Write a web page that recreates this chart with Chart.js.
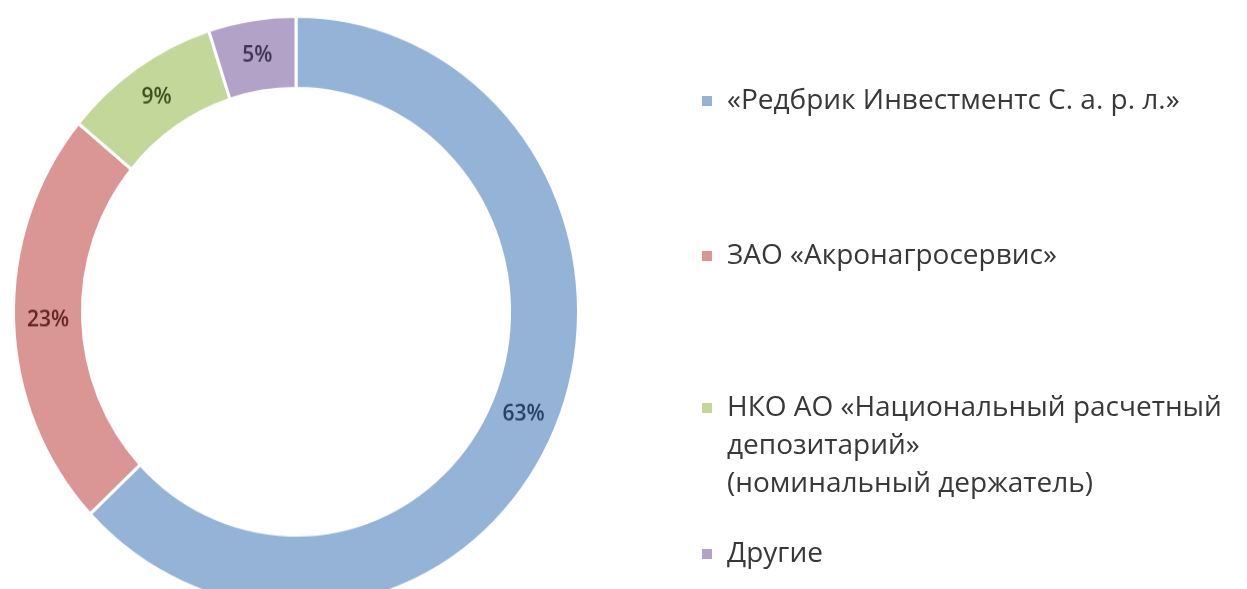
<!DOCTYPE html>
<html>
<head>
<meta charset="utf-8">
<script src="https://cdn.jsdelivr.net/npm/chart.js@4.4.1/dist/chart.umd.min.js"></script>
<style>
  html, body { margin: 0; padding: 0; background: #ffffff; }
  #wrap { position: relative; width: 1247px; height: 589px; overflow: hidden; background: #fff; }
  #c { position: absolute; left: 0; top: 0; transform-origin: 0 0; transform: scaleY(1.046); }
  .lg { position: absolute; left: 702px; font-family: "Open Sans", "Noto Sans", sans-serif; font-size: 28px; line-height: 38px; color: #383838; }
  .lg .mk { position: absolute; left: 0; width: 10px; height: 10px; }
  .lg .tx { position: absolute; left: 25px; top: 0; white-space: pre; }
</style>
</head>
<body>
<div id="wrap">
  <canvas id="c" width="1247" height="589"></canvas>
</div>
<script>
// ---- data ----
const categories = [
  "«Редбрик Инвестментс С. а. р. л.»",
  "ЗАО «Акронагросервис»",
  "НКО АО «Национальный расчетный\nдепозитарий»\n(номинальный держатель)",
  "Другие"
];
const shares = [63, 23, 9, 5];
const valueLabels = ["63%", "23%", "9%", "5%"];
const sliceColors = ["#95B3D7", "#DA9694", "#C4D79B", "#B3A2C7"];
const valueLabelColors = ["#243F60", "#632523", "#3D4F1E", "#3F3151"];

// ---- layout (not data) ----
const legendTops = [79, 234, 386, 532];

const labelPlugin = {
  id: 'sliceLabels',
  afterDatasetsDraw(chart) {
    const ctx = chart.ctx;
    const meta = chart.getDatasetMeta(0);
    ctx.save();
    ctx.font = '600 21px "Open Sans", "Noto Sans", sans-serif';
    ctx.textAlign = 'center';
    ctx.textBaseline = 'middle';
    meta.data.forEach((el, i) => {
      const p = el.tooltipPosition();
      ctx.fillStyle = valueLabelColors[i];
      ctx.fillText(valueLabels[i], p.x, p.y);
    });
    ctx.restore();
  }
};

new Chart(document.getElementById('c'), {
  type: 'doughnut',
  data: {
    labels: categories,
    datasets: [{
      data: shares,
      backgroundColor: sliceColors,
      borderColor: '#ffffff',
      borderWidth: 3,
      hoverOffset: 0
    }]
  },
  options: {
    responsive: false,
    animation: false,
    cutout: '75.6%',
    rotation: 0,
    layout: { padding: { left: 12, right: 667, top: 14, bottom: 7 } },
    plugins: {
      legend: { display: false },
      tooltip: { enabled: false }
    }
  },
  plugins: [labelPlugin]
});

// HTML legend built from the data arrays
const wrap = document.getElementById('wrap');
categories.forEach((name, i) => {
  const item = document.createElement('div');
  item.className = 'lg';
  item.style.top = legendTops[i] + 'px';
  const mk = document.createElement('div');
  mk.className = 'mk';
  mk.style.background = sliceColors[i];
  mk.style.top = '17px';
  const tx = document.createElement('div');
  tx.className = 'tx';
  tx.textContent = name;
  item.appendChild(mk);
  item.appendChild(tx);
  wrap.appendChild(item);
});
</script>
</body>
</html>
